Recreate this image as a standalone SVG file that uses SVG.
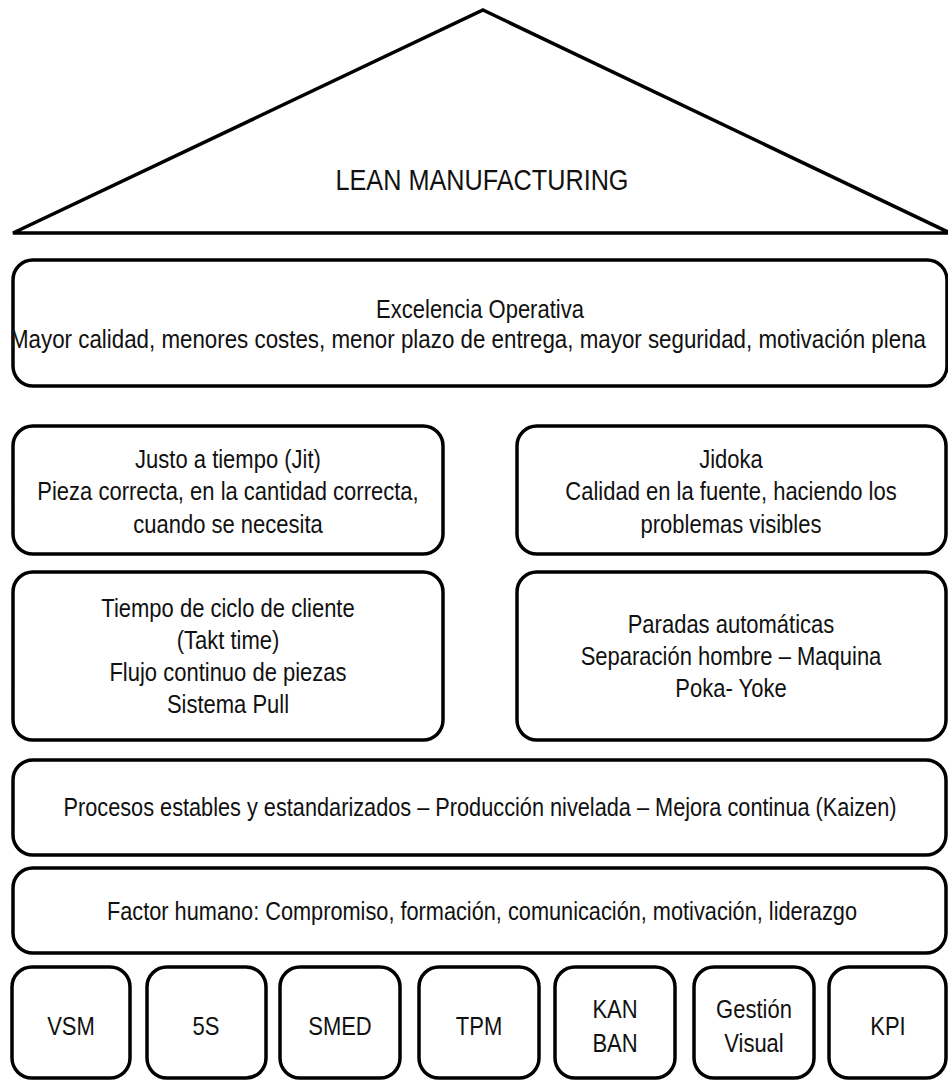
<svg xmlns="http://www.w3.org/2000/svg" width="948" height="1081" viewBox="0 0 948 1081">
  <style>
    .box { fill: #ffffff; stroke: #000000; stroke-width: 3.5; }
    .roof { fill: #ffffff; stroke: #000000; stroke-width: 3.5; stroke-linejoin: miter; }
    text { font-family: "Liberation Sans", Arial, sans-serif; font-size: 22px; fill: #111111; text-anchor: middle;
           transform-box: fill-box; transform-origin: 50% 80%; transform: scaleY(1.14); }
    .title { font-size: 30px; transform: none; }
  </style>
  <rect width="948" height="1081" fill="#ffffff"/>

  <!-- roof -->
  <g id="roof">
    <polygon class="roof" points="483,10 950,233 13,233"/>
    <text class="title" x="482" y="190" textLength="293" lengthAdjust="spacingAndGlyphs">LEAN MANUFACTURING</text>
  </g>

  <!-- goal -->
  <g id="excelencia">
    <rect class="box" x="13" y="260" width="934" height="126" rx="20"/>
    <text x="480" y="318">Excelencia Operativa</text>
    <text x="468" y="348" textLength="916" lengthAdjust="spacingAndGlyphs">Mayor calidad, menores costes, menor plazo de entrega, mayor seguridad, motivación plena</text>
  </g>

  <!-- pillars -->
  <g id="jit">
    <rect class="box" x="13" y="426" width="430" height="128" rx="20"/>
    <text x="228" y="468">Justo a tiempo (Jit)</text>
    <text x="228" y="500">Pieza correcta, en la cantidad correcta,</text>
    <text x="228" y="533">cuando se necesita</text>
  </g>
  <g id="jidoka">
    <rect class="box" x="517" y="426" width="429" height="128" rx="20"/>
    <text x="731" y="468">Jidoka</text>
    <text x="731" y="500">Calidad en la fuente, haciendo los</text>
    <text x="731" y="533">problemas visibles</text>
  </g>
  <g id="jit-herramientas">
    <rect class="box" x="13" y="572" width="430" height="168" rx="20"/>
    <text x="228" y="617">Tiempo de ciclo de cliente</text>
    <text x="228" y="649">(Takt time)</text>
    <text x="228" y="681">Flujo continuo de piezas</text>
    <text x="228" y="713">Sistema Pull</text>
  </g>
  <g id="jidoka-herramientas">
    <rect class="box" x="517" y="572" width="429" height="168" rx="20"/>
    <text x="731" y="633">Paradas automáticas</text>
    <text x="731" y="665">Separación hombre – Maquina</text>
    <text x="731" y="697">Poka- Yoke</text>
  </g>

  <!-- foundations -->
  <g id="procesos">
    <rect class="box" x="13" y="760" width="933" height="95" rx="20"/>
    <text x="480" y="816" textLength="833" lengthAdjust="spacingAndGlyphs">Procesos estables y estandarizados – Producción nivelada – Mejora continua (Kaizen)</text>
  </g>
  <g id="factor-humano">
    <rect class="box" x="13" y="868" width="933" height="85" rx="20"/>
    <text x="482" y="920" textLength="750" lengthAdjust="spacingAndGlyphs">Factor humano: Compromiso, formación, comunicación, motivación, liderazgo</text>
  </g>

  <!-- tools -->
  <g id="vsm">
    <rect class="box" x="12" y="967" width="118" height="111" rx="20"/>
    <text x="71" y="1035">VSM</text>
  </g>
  <g id="s5">
    <rect class="box" x="147" y="967" width="119" height="111" rx="20"/>
    <text x="206" y="1035">5S</text>
  </g>
  <g id="smed">
    <rect class="box" x="280" y="967" width="120" height="111" rx="20"/>
    <text x="340" y="1035">SMED</text>
  </g>
  <g id="tpm">
    <rect class="box" x="419" y="967" width="120" height="111" rx="20"/>
    <text x="479" y="1035">TPM</text>
  </g>
  <g id="kanban">
    <rect class="box" x="555" y="967" width="120" height="111" rx="20"/>
    <text x="615" y="1018">KAN</text>
    <text x="615" y="1052">BAN</text>
  </g>
  <g id="gestion-visual">
    <rect class="box" x="694" y="967" width="120" height="111" rx="20"/>
    <text x="754" y="1018">Gestión</text>
    <text x="754" y="1052">Visual</text>
  </g>
  <g id="kpi">
    <rect class="box" x="829" y="967" width="117" height="111" rx="20"/>
    <text x="888" y="1035">KPI</text>
  </g>

  <g id="connectors"/>
</svg>
